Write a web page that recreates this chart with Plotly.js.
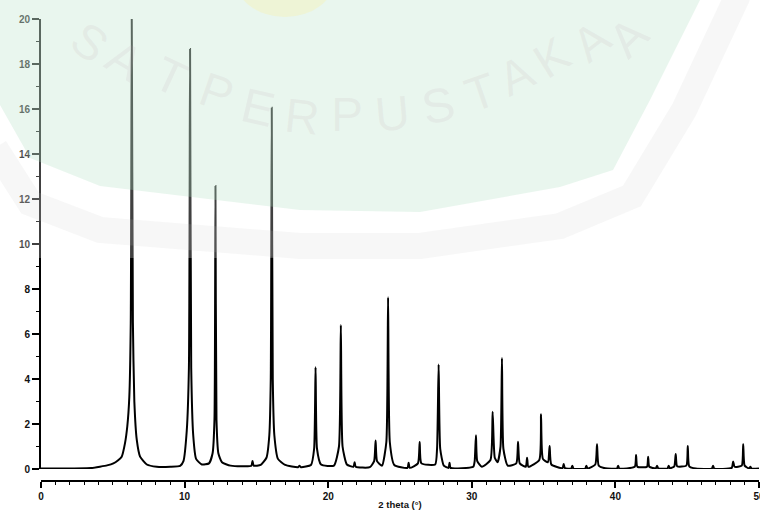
<!DOCTYPE html>
<html>
<head>
<meta charset="utf-8">
<script src="https://cdn.plot.ly/plotly-3.0.1.min.js"></script>
<style>html,body{margin:0;padding:0;background:#fff;}#chart{width:760px;height:510px;}</style>
</head>
<body>
<div id="chart"></div>
<script>
// 2 theta (degrees)
const twoTheta = [0,2,3.5,4.1,4.6,5.04,5.35,5.62,5.85,6.01,6.15,6.25,6.32,6.4,6.5,6.67,6.9,7.37,8.06,9.0,
  9.69,9.92,10.15,10.3,10.38,10.46,10.6,10.8,11.2,11.7,11.95,12.08,12.15,12.22,12.35,12.6,13.2,14.2,
  14.65,14.73,14.81,15.3,15.7,15.9,16.0,16.07,16.14,16.25,16.5,17.0,17.9,18.0,18.1,18.8,19.02,19.12,
  19.22,19.5,20.4,20.75,20.88,21.0,21.3,21.76,21.84,21.92,22.9,23.2,23.3,23.4,23.75,24.05,24.17,24.29,
  24.6,25.52,25.6,25.68,26.25,26.37,26.49,27.45,27.58,27.69,27.8,28.05,28.38,28.45,28.52,30.1,30.2,
  30.29,30.38,30.7,31.3,31.45,31.6,31.8,32.0,32.1,32.2,32.5,33.1,33.22,33.34,33.76,33.85,33.94,34.7,
  34.82,34.95,35.3,35.42,35.54,36.32,36.4,36.48,36.92,37.0,37.08,37.9,37.98,38.06,38.6,38.72,38.84,
  39.3,40.11,40.19,40.27,41.35,41.44,41.53,42.2,42.28,42.36,42.82,42.9,42.98,43.63,43.71,43.79,44.1,
  44.2,44.3,44.94,45.04,45.14,45.6,46.72,46.8,46.88,48.1,48.2,48.3,48.8,48.9,49.0,49.32,49.4,49.48,50];
// intensity
const intensity = [0.02,0.02,0.04,0.1,0.16,0.25,0.38,0.55,1.15,1.9,3.2,6.5,20,6.5,3.0,1.29,0.55,0.2,0.1,0.1,
  0.14,0.35,1.7,4.5,18.67,4.5,1.5,0.45,0.2,0.25,0.7,2.2,12.58,2.2,0.7,0.3,0.15,0.12,
  0.15,0.36,0.15,0.18,0.5,1.5,4.0,16.06,4.0,1.5,0.45,0.18,0.08,0.14,0.08,0.18,0.9,4.52,
  0.9,0.2,0.15,1.0,6.4,1.0,0.2,0.1,0.3,0.1,0.08,0.35,1.27,0.35,0.15,1.2,7.63,1.2,
  0.18,0.05,0.28,0.05,0.25,1.2,0.25,0.2,0.9,4.64,0.9,0.15,0.05,0.28,0.05,0.1,0.35,
  1.5,0.35,0.1,0.4,2.55,0.5,0.3,1.0,4.93,0.9,0.15,0.25,1.21,0.25,0.1,0.5,0.1,0.4,
  2.43,0.45,0.3,1.02,0.2,0.04,0.22,0.04,0.02,0.15,0.02,0.02,0.15,0.02,0.2,1.1,0.15,
  0.03,0.02,0.15,0.02,0.1,0.62,0.1,0.1,0.55,0.1,0.03,0.15,0.03,0.02,0.15,0.03,0.12,
  0.67,0.12,0.15,1.02,0.12,0.02,0.02,0.15,0.02,0.05,0.33,0.1,0.15,1.1,0.15,0.02,0.1,0.02,0.02];

const yTicks = [0,2,4,6,8,10,12,14,16,18,20];
const xTicks = [0,10,20,30,40,50];
const xTitle = '2 theta (°)';
const watermarkLetters = ['S','A','T','P','E','R','P','U','S','T','A','K','A','A'];

// pixel -> paper helpers for the decorative watermark (plot area: left 41, width 718, bottom 481, height 462)
const PL = 41, PW = 718, PB = 481, PH = 462;
const px = x => (x - PL) / PW;
const py = y => (PB - y) / PH;
const pathFrom = (pts, close) => pts.map((p, i) => (i ? 'L' : 'M') + px(p[0]).toFixed(4) + ',' + py(p[1]).toFixed(4)).join(' ') + (close ? ' Z' : '');

const greenShield = [[0,0],[0,105],[30,158],[100,186],[200,198],[300,210],[420,212],[560,187],[613,170],[650,100],[700,0]];
const grayBand = [[-5,148],[30,203],[100,230],[300,246],[420,246],[560,226],[632,196],[684,110],[738,-5]];
// letter placement (pixel centre x, y, rotation in degrees)
const letterPos = [[90,42,36],[125,60,31],[170,76,25],[217,92,19],[258,108,13],[302,116,6],[347,115,0],
  [392,113,-5],[438,105,-12],[480,92,-19],[516,75,-26],[552,58,-32],[591,41,-38],[628,37,-44]];

const shapes = [
  {type:'rect', xref:'paper', yref:'paper', x0:px(0), x1:px(760), y0:py(258), y1:py(0), layer:'above',
   line:{width:0}, fillcolor:'rgba(255,255,255,0.25)'},
  {type:'path', xref:'paper', yref:'paper', path:pathFrom(greenShield, true), layer:'above',
   line:{width:0}, fillcolor:'rgba(170,220,190,0.26)'},
  {type:'path', xref:'paper', yref:'paper', path:pathFrom(grayBand, false), layer:'above',
   line:{width:26, color:'rgba(200,200,200,0.14)'}},
  {type:'circle', xref:'paper', yref:'paper', x0:px(235), x1:px(335), y0:py(17), y1:py(-60), layer:'above',
   line:{width:0}, fillcolor:'rgba(250,240,170,0.35)'}
];

const annotations = watermarkLetters.map((ch, i) => ({
  xref:'paper', yref:'paper', x:px(letterPos[i][0]), y:py(letterPos[i][1]), text:ch, showarrow:false,
  textangle:letterPos[i][2], xanchor:'center', yanchor:'middle',
  font:{family:'Liberation Sans, Arial, sans-serif', size:48, color:'rgba(190,160,170,0.12)'}
}));

const trace = {
  x: twoTheta, y: intensity, type:'scatter', mode:'lines',
  line:{color:'#000', width:2, shape:'spline', smoothing:0.5}, hoverinfo:'skip', showlegend:false
};

const tickFont = {family:'Liberation Sans, Arial, sans-serif', size:10, color:'#111'};

const layout = {
  width:760, height:510,
  margin:{l:41, r:1, t:19, b:29, pad:0},
  paper_bgcolor:'#fff', plot_bgcolor:'rgba(0,0,0,0)',
  showlegend:false,
  xaxis:{
    range:[0,50], anchor:'free', position:0,
    showline:true, linecolor:'#000', linewidth:2, mirror:false,
    showgrid:false, zeroline:false,
    tickmode:'array', tickvals:xTicks, ticktext:xTicks.map(v => '<b>' + v + '</b>'),
    ticks:'outside', ticklen:6, tickwidth:2, tickcolor:'#000',
    minor:{dtick:1, ticks:'outside', ticklen:3, tickwidth:1, tickcolor:'#000', showgrid:false},
    tickfont:tickFont, ticklabeloverflow:'allow',
    title:{text:'<b>' + xTitle + '</b>', font:{family:'Liberation Sans, Arial, sans-serif', size:9.5, color:'#111'}, standoff:2}
  },
  yaxis:{
    range:[0,20], domain:[12/462, 1], anchor:'x',
    showline:true, linecolor:'#000', linewidth:2,
    showgrid:false, zeroline:false,
    tickmode:'array', tickvals:yTicks, ticktext:yTicks.map(v => '<b>' + v + '</b>'),
    ticks:'outside', ticklen:7, tickwidth:2, tickcolor:'#000',
    minor:{dtick:1, ticks:'outside', ticklen:3, tickwidth:1, tickcolor:'#000', showgrid:false},
    tickfont:tickFont
  },
  shapes: shapes,
  annotations: annotations
};

Plotly.newPlot('chart', [trace], layout, {staticPlot:true, displayModeBar:false});
</script>
</body>
</html>
